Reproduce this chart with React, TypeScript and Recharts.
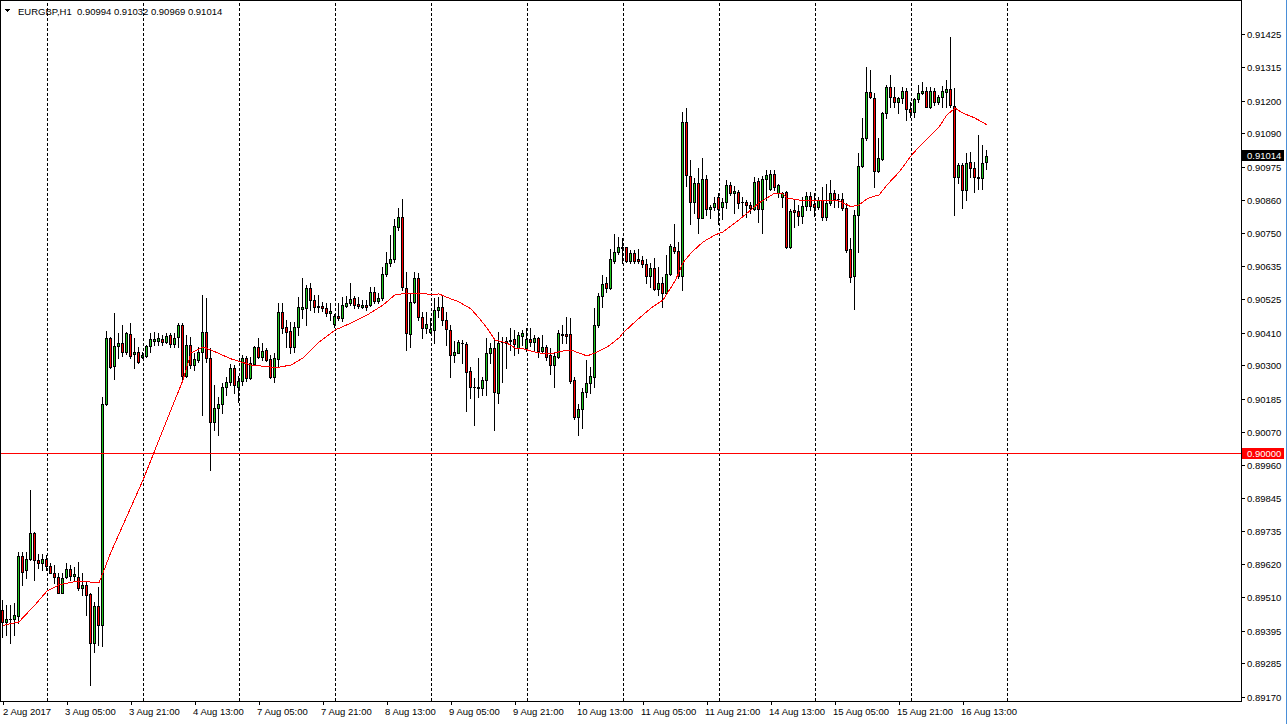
import { ComposedChart, Bar, Line, XAxis, YAxis, ReferenceLine } from 'recharts'

const W = 1287
const H = 724
const PLOT_LEFT = 1
const PLOT_RIGHT = 1241
const PLOT_BOTTOM = 701
const FONT = '"Liberation Sans", Arial, sans-serif'
const BULL = '#1ec81e'
const BEAR = '#ff0000'
const LEVEL_COLOR = '#ff0000'

const SYMBOL = 'EURGBP,H1'

// hourly bars, 2 Aug 13:00 -> 16 Aug 19:00
const OPEN = [
  0.89467, 0.89427, 0.89435, 0.89435, 0.89447, 0.89651, 0.89603, 0.89639, 0.8973, 0.89637,
  0.89626, 0.89639, 0.89616, 0.89594, 0.89578, 0.89526, 0.89578, 0.89605, 0.89582, 0.89578,
  0.89541, 0.89552, 0.8952, 0.89353, 0.8948, 0.89416, 0.90168, 0.90392, 0.90298, 0.90366,
  0.90375, 0.90346, 0.90407, 0.90339, 0.90344, 0.90329, 0.90332, 0.90366, 0.90384, 0.90384,
  0.90389, 0.90379, 0.90403, 0.90372, 0.90395, 0.90437, 0.90264, 0.90369, 0.90301, 0.90318,
  0.90346, 0.90415, 0.90326, 0.90108, 0.90156, 0.90167, 0.90227, 0.90244, 0.9029, 0.90225,
  0.90247, 0.90324, 0.90256, 0.90304, 0.90361, 0.90327, 0.90352, 0.9032, 0.90259, 0.9032,
  0.90481, 0.9043, 0.90417, 0.90361, 0.90432, 0.90493, 0.90494, 0.90562, 0.90522, 0.90502,
  0.90502, 0.90494, 0.90477, 0.9044, 0.90468, 0.9046, 0.90503, 0.90511, 0.90529, 0.90509,
  0.905, 0.90505, 0.90504, 0.90549, 0.90519, 0.90528, 0.9061, 0.90647, 0.90661, 0.9077,
  0.90804, 0.90562, 0.90407, 0.90517, 0.90596, 0.90466, 0.90426, 0.90412, 0.9042, 0.90488,
  0.90498, 0.90454, 0.9042, 0.90335, 0.90343, 0.90377, 0.90373, 0.90282, 0.90225, 0.90226,
  0.90222, 0.9025, 0.90343, 0.90358, 0.90207, 0.9038, 0.90375, 0.90384, 0.9039, 0.90358,
  0.904, 0.90358, 0.90389, 0.9038, 0.90392, 0.9035, 0.90361, 0.90335, 0.90301, 0.90327,
  0.90407, 0.90407, 0.90406, 0.9025, 0.90123, 0.9015, 0.90208, 0.90239, 0.90261, 0.90437,
  0.90536, 0.90581, 0.90562, 0.90656, 0.90687, 0.90702, 0.90702, 0.90656, 0.90684, 0.90661,
  0.90659, 0.90644, 0.90605, 0.9063, 0.90559, 0.90579, 0.90547, 0.90611, 0.90702, 0.9069,
  0.90604, 0.9113, 0.90945, 0.90855, 0.90922, 0.90803, 0.90934, 0.90831, 0.9084, 0.90872,
  0.90838, 0.90855, 0.90914, 0.90886, 0.90891, 0.90855, 0.90855, 0.90846, 0.90832, 0.90929,
  0.90831, 0.90934, 0.909, 0.90952, 0.90886, 0.90872, 0.90891, 0.90704, 0.90829, 0.90827,
  0.90809, 0.90843, 0.90877, 0.9085, 0.9084, 0.90863, 0.90806, 0.90854, 0.90886, 0.90865,
  0.90865, 0.90835, 0.90695, 0.90604, 0.90812, 0.90979, 0.91073, 0.91232, 0.91209, 0.90963,
  0.91002, 0.91158, 0.91249, 0.91213, 0.91198, 0.91209, 0.91235, 0.91173, 0.91164, 0.91207,
  0.91226, 0.91234, 0.91181, 0.91234, 0.91198, 0.91215, 0.91232, 0.9124, 0.91183, 0.90942,
  0.90982, 0.90897, 0.90994, 0.90971, 0.90942, 0.90937, 0.90994,
]
const HIGH = [
  0.89501, 0.89484, 0.89484, 0.89489, 0.89665, 0.89665, 0.89665, 0.89875, 0.89733, 0.89657,
  0.89657, 0.89654, 0.89626, 0.8962, 0.89592, 0.89592, 0.89626, 0.8962, 0.89614, 0.89631,
  0.89592, 0.89563, 0.89524, 0.89495, 0.89546, 0.90191, 0.90418, 0.90397, 0.90477, 0.90411,
  0.90437, 0.90415, 0.90443, 0.90392, 0.90363, 0.90346, 0.90369, 0.90409, 0.90415, 0.90409,
  0.90403, 0.90409, 0.90409, 0.90409, 0.90443, 0.90443, 0.90403, 0.90397, 0.90341, 0.90363,
  0.9054, 0.90528, 0.90358, 0.90233, 0.90193, 0.90241, 0.90261, 0.90304, 0.90301, 0.90264,
  0.90335, 0.90332, 0.90329, 0.90366, 0.90392, 0.90375, 0.90358, 0.90335, 0.90341, 0.90511,
  0.90511, 0.90454, 0.90449, 0.90449, 0.90534, 0.90596, 0.90574, 0.90579, 0.9054, 0.9054,
  0.90517, 0.90511, 0.90511, 0.90475, 0.90513, 0.90534, 0.90536, 0.90579, 0.90536, 0.90532,
  0.90522, 0.90522, 0.90568, 0.90568, 0.90545, 0.90636, 0.90687, 0.90744, 0.90797, 0.90835,
  0.90865, 0.90619, 0.90543, 0.90619, 0.90615, 0.90483, 0.90483, 0.9046, 0.90528, 0.90534,
  0.9054, 0.90483, 0.90437, 0.90384, 0.90386, 0.90386, 0.9038, 0.90295, 0.90256, 0.90324,
  0.90261, 0.90392, 0.90375, 0.90392, 0.90415, 0.90397, 0.90397, 0.90426, 0.9042, 0.90415,
  0.9042, 0.90426, 0.90426, 0.90403, 0.90397, 0.90403, 0.90369, 0.90358, 0.90343, 0.9042,
  0.90437, 0.90464, 0.9046, 0.90261, 0.90168, 0.90222, 0.90318, 0.90295, 0.90494, 0.90547,
  0.90608, 0.90602, 0.90695, 0.90747, 0.90736, 0.90733, 0.90704, 0.90693, 0.90693, 0.90695,
  0.90672, 0.90661, 0.90647, 0.90665, 0.90636, 0.90602, 0.90676, 0.90713, 0.90781, 0.90721,
  0.91164, 0.91175, 0.90999, 0.90937, 0.90971, 0.91005, 0.90948, 0.90846, 0.90874, 0.90886,
  0.90869, 0.90931, 0.90925, 0.90911, 0.90897, 0.90872, 0.90863, 0.90857, 0.90942, 0.90937,
  0.90945, 0.90965, 0.90965, 0.90965, 0.90916, 0.90891, 0.90892, 0.90831, 0.90863, 0.90846,
  0.90872, 0.90891, 0.90891, 0.90886, 0.90874, 0.90908, 0.90918, 0.90931, 0.90897, 0.90883,
  0.90888, 0.90852, 0.90733, 0.90829, 0.91022, 0.91141, 0.91317, 0.91306, 0.91226, 0.91073,
  0.91164, 0.91255, 0.91289, 0.91249, 0.91215, 0.91249, 0.91244, 0.91198, 0.91209, 0.91255,
  0.91266, 0.91249, 0.91249, 0.91244, 0.91221, 0.91251, 0.91272, 0.91419, 0.91244, 0.9099,
  0.90988, 0.91022, 0.91028, 0.90994, 0.91085, 0.9105, 0.91032,
]
const LOW = [
  0.89376, 0.89381, 0.89353, 0.89381, 0.89421, 0.89552, 0.89575, 0.89637, 0.89569, 0.89609,
  0.89603, 0.89603, 0.89592, 0.89558, 0.89524, 0.89524, 0.89575, 0.89569, 0.89569, 0.89535,
  0.89518, 0.8945, 0.89211, 0.89325, 0.89347, 0.89344, 0.90165, 0.9029, 0.90252, 0.90324,
  0.90332, 0.90339, 0.90324, 0.9029, 0.90309, 0.90325, 0.90327, 0.90346, 0.90369, 0.90369,
  0.90369, 0.90375, 0.90363, 0.90363, 0.90363, 0.9025, 0.90261, 0.9029, 0.90284, 0.90312,
  0.90131, 0.90312, 0.89943, 0.9008, 0.90063, 0.90139, 0.90199, 0.90233, 0.90205, 0.90176,
  0.90233, 0.90247, 0.90252, 0.90301, 0.90324, 0.90318, 0.90316, 0.90256, 0.90244, 0.90295,
  0.90409, 0.90363, 0.90341, 0.90346, 0.90403, 0.9046, 0.90437, 0.90488, 0.90483, 0.90483,
  0.90486, 0.90468, 0.90454, 0.90432, 0.90454, 0.90452, 0.905, 0.90505, 0.90494, 0.90494,
  0.90494, 0.90488, 0.90502, 0.90511, 0.90513, 0.90522, 0.90604, 0.90638, 0.90653, 0.90761,
  0.90557, 0.90352, 0.90363, 0.90511, 0.90454, 0.90392, 0.90409, 0.90409, 0.90375, 0.90466,
  0.90437, 0.90369, 0.90259, 0.90312, 0.90341, 0.90307, 0.90145, 0.90188, 0.90097, 0.90191,
  0.90199, 0.90199, 0.90307, 0.9008, 0.90171, 0.90244, 0.9029, 0.90352, 0.90335, 0.90341,
  0.90369, 0.9035, 0.90366, 0.90352, 0.90329, 0.90341, 0.90318, 0.9027, 0.90227, 0.90324,
  0.90375, 0.90375, 0.90239, 0.90116, 0.90063, 0.90085, 0.90193, 0.90205, 0.90227, 0.9043,
  0.905, 0.90551, 0.90559, 0.9065, 0.90679, 0.90647, 0.90653, 0.90647, 0.9065, 0.90647,
  0.90636, 0.90579, 0.90566, 0.90557, 0.9054, 0.90498, 0.90543, 0.90608, 0.90682, 0.90596,
  0.90557, 0.90911, 0.90781, 0.90818, 0.90752, 0.90801, 0.90812, 0.90801, 0.90829, 0.90781,
  0.90797, 0.90835, 0.9088, 0.90818, 0.90835, 0.90812, 0.90806, 0.90818, 0.90829, 0.90789,
  0.90752, 0.90863, 0.90897, 0.90897, 0.90872, 0.9084, 0.90699, 0.907, 0.90772, 0.90778,
  0.90784, 0.90829, 0.90829, 0.90809, 0.90831, 0.90795, 0.90795, 0.90846, 0.9084, 0.9084,
  0.90829, 0.90687, 0.90585, 0.90491, 0.90687, 0.90977, 0.91067, 0.9121, 0.90908, 0.90959,
  0.90999, 0.91141, 0.91181, 0.91181, 0.91158, 0.91192, 0.91136, 0.91145, 0.91147, 0.91198,
  0.91224, 0.91179, 0.91175, 0.91187, 0.9119, 0.91181, 0.91181, 0.91181, 0.90812, 0.9092,
  0.90835, 0.90863, 0.90942, 0.90891, 0.909, 0.909, 0.90969,
]
const CLOSE = [
  0.89427, 0.89435, 0.89436, 0.89449, 0.89651, 0.89597, 0.8964, 0.89728, 0.89637, 0.89626,
  0.89639, 0.89617, 0.89594, 0.8958, 0.89526, 0.89575, 0.89605, 0.89582, 0.89589, 0.89541,
  0.89552, 0.89518, 0.89353, 0.8948, 0.89416, 0.90168, 0.90392, 0.90295, 0.90366, 0.90375,
  0.90346, 0.90411, 0.90332, 0.90345, 0.90312, 0.90334, 0.90366, 0.90389, 0.90389, 0.90392,
  0.90379, 0.904, 0.90372, 0.90392, 0.90437, 0.90264, 0.90369, 0.90301, 0.9032, 0.90346,
  0.90415, 0.90324, 0.90108, 0.90154, 0.90167, 0.90227, 0.90244, 0.9029, 0.90233, 0.90247,
  0.90324, 0.90256, 0.90307, 0.90361, 0.90327, 0.9035, 0.90318, 0.90261, 0.90324, 0.90481,
  0.90426, 0.90415, 0.90361, 0.9043, 0.90498, 0.90498, 0.90562, 0.90522, 0.905, 0.90498,
  0.90494, 0.90477, 0.90486, 0.90468, 0.9046, 0.90505, 0.90513, 0.90526, 0.90505, 0.90502,
  0.90505, 0.905, 0.90549, 0.90519, 0.90529, 0.9061, 0.90647, 0.90662, 0.90775, 0.90804,
  0.90566, 0.90409, 0.90517, 0.90596, 0.90466, 0.90426, 0.90441, 0.90424, 0.90488, 0.90498,
  0.90454, 0.90423, 0.90335, 0.90346, 0.90378, 0.90375, 0.90278, 0.90225, 0.90226, 0.90222,
  0.9025, 0.90341, 0.90358, 0.9021, 0.90377, 0.90379, 0.90384, 0.90385, 0.90373, 0.90403,
  0.90409, 0.90389, 0.9038, 0.90392, 0.9035, 0.90361, 0.90329, 0.90301, 0.90332, 0.90409,
  0.90403, 0.90401, 0.90248, 0.90125, 0.9015, 0.90208, 0.90239, 0.90264, 0.90437, 0.90536,
  0.90576, 0.90562, 0.90661, 0.90687, 0.90702, 0.90699, 0.90656, 0.90684, 0.90656, 0.90656,
  0.90644, 0.90605, 0.9063, 0.90559, 0.90579, 0.90547, 0.90611, 0.90706, 0.9069, 0.90604,
  0.9113, 0.90948, 0.90855, 0.90922, 0.90803, 0.90934, 0.90831, 0.90838, 0.90852, 0.90831,
  0.90855, 0.90914, 0.90886, 0.90894, 0.90854, 0.90856, 0.90846, 0.90835, 0.90925, 0.90831,
  0.90934, 0.90948, 0.90952, 0.90908, 0.90914, 0.90886, 0.90704, 0.90827, 0.90823, 0.90809,
  0.90843, 0.90877, 0.90843, 0.90838, 0.90863, 0.90806, 0.90854, 0.90886, 0.90865, 0.90866,
  0.90835, 0.90693, 0.90602, 0.90812, 0.90979, 0.91073, 0.91232, 0.91213, 0.90963, 0.91005,
  0.9116, 0.91249, 0.91213, 0.91198, 0.91209, 0.91235, 0.91173, 0.91164, 0.91206, 0.91226,
  0.91234, 0.91181, 0.91234, 0.91198, 0.91215, 0.91234, 0.9124, 0.91187, 0.90942, 0.90982,
  0.90897, 0.9099, 0.90971, 0.9094, 0.90937, 0.9099, 0.91014,
]

// moving average, read at these bars
const MA_BAR = [
  0, 4, 8, 11, 14, 18, 21, 24, 25, 27, 30, 35, 40, 45, 47, 50, 52, 57, 62, 67, 68, 72, 75, 77, 79,
  83, 87, 91, 95, 98, 101, 105, 107, 109, 112, 114, 117, 119, 121, 123, 126, 128, 130, 134, 137,
  140, 142, 144, 146, 148, 151, 154, 155, 158, 162, 165, 168, 170, 172, 175, 178, 180, 184, 189,
  193, 195, 196, 199, 204, 209, 212, 214, 216, 218, 219, 221, 224, 227, 229, 234, 236, 238, 240,
  243, 246,
]
const MA_VALUE = [
  0.89414, 0.89426, 0.89484, 0.89531, 0.89552, 0.89563, 0.89563, 0.89559, 0.89593, 0.89664,
  0.89756, 0.89909, 0.9008, 0.9025, 0.90342, 0.90362, 0.90352, 0.90322, 0.90301, 0.90294,
  0.90291, 0.90301, 0.90325, 0.90352, 0.90379, 0.9042, 0.90444, 0.90471, 0.90505, 0.9054,
  0.90546, 0.90546, 0.9054, 0.90543, 0.90526, 0.90516, 0.90492, 0.90461, 0.90427, 0.90386,
  0.90376, 0.90359, 0.90356, 0.90342, 0.90339, 0.90349, 0.90352, 0.90342, 0.90332, 0.90342,
  0.90362, 0.90393, 0.9041, 0.90448, 0.90495, 0.90522, 0.90587, 0.90649, 0.90683, 0.9072,
  0.90744, 0.90754, 0.90795, 0.90853, 0.90887, 0.90884, 0.9087, 0.90863, 0.9086, 0.9086,
  0.9084, 0.90846, 0.90867, 0.90877, 0.9088, 0.90914, 0.90958, 0.91013, 0.91044, 0.91112,
  0.91153, 0.91176, 0.91159, 0.91142, 0.91119,
]

const TIME_LABELS = [
  '2 Aug 2017', '3 Aug 05:00', '3 Aug 21:00', '4 Aug 13:00', '7 Aug 05:00', '7 Aug 21:00',
  '8 Aug 13:00', '9 Aug 05:00', '9 Aug 21:00', '10 Aug 13:00', '11 Aug 05:00', '11 Aug 21:00',
  '14 Aug 13:00', '15 Aug 05:00', '15 Aug 21:00', '16 Aug 13:00',
]
const TIME_LABEL_BAR = [0, 16, 32, 48, 64, 80, 96, 112, 128, 144, 160, 176, 192, 208, 224, 240]
const DAY_START_BAR = [11, 35, 59, 83, 107, 131, 155, 179, 203, 227, 251]

const PRICE_TICKS = [
  0.91425, 0.91315, 0.912, 0.9109, 0.90975, 0.9086, 0.9075, 0.90635, 0.90525, 0.9041, 0.903,
  0.90185, 0.9007, 0.8996, 0.89845, 0.89735, 0.8962, 0.8951, 0.89395, 0.89285, 0.8917,
]
const LEVEL = 0.9
const Y_DOMAIN: [number, number] = [0.891566, 0.915408]
const EMPTY_BARS = 63 // chart shift on the right

const N = CLOSE.length
const LAST = CLOSE[N - 1]

const data = Array.from({ length: N + EMPTY_BARS }, (_, i) => ({
  i,
  o: i < N ? OPEN[i] : null,
  h: i < N ? HIGH[i] : null,
  l: i < N ? LOW[i] : null,
  c: i < N ? CLOSE[i] : null,
  ma: null as number | null,
}))
MA_BAR.forEach((b, k) => {
  data[b].ma = MA_VALUE[k]
})

function Candle(props: any) {
  const { x, y, width, height, payload } = props
  if (!payload || payload.h == null) return <g />
  const { o, h, l, c } = payload
  const top = Math.min(y, y + height)
  const span = Math.abs(height)
  const toY = (v: number) => (h === l ? top : top + ((h - v) / (h - l)) * span)
  const cx = Math.floor(x + width / 2)
  const wickTop = Math.round(top)
  const wickBot = Math.round(top + span)
  const bodyTop = Math.round(toY(Math.max(o, c)))
  const bodyBot = Math.round(toY(Math.min(o, c)))
  const bh = bodyBot - bodyTop
  return (
    <g>
      <rect x={cx} y={wickTop} width={1} height={Math.max(1, wickBot - wickTop + 1)} fill="#000" />
      <rect x={cx - 1} y={bodyTop} width={3} height={Math.max(1, bh + 1)} fill="#000" />
      {bh >= 2 && (
        <rect x={cx} y={bodyTop + 1} width={1} height={bh - 1} fill={c >= o ? BULL : BEAR} />
      )}
    </g>
  )
}

function TimeTick(props: any) {
  const { x, payload } = props
  const k = TIME_LABEL_BAR.indexOf(payload.value)
  const px = Math.floor(x)
  return (
    <g>
      <rect x={px} y={PLOT_BOTTOM} width={1} height={4} fill="#000" />
      <text x={Math.max(3, px - 2)} y={715} fontSize={9.5} fontFamily={FONT} fill="#000">
        {TIME_LABELS[k]}
      </text>
    </g>
  )
}

// price scale labels; the 0.90000 level also gets its horizontal line here
function PriceTick(props: any) {
  const { y, payload } = props
  const v = payload.value
  const yy = Math.floor(y)
  const isLevel = v === LEVEL
  const boxed = v === LAST || isLevel
  return (
    <g>
      {isLevel && (
        <rect x={PLOT_LEFT} y={yy} width={PLOT_RIGHT - PLOT_LEFT} height={1} fill={LEVEL_COLOR} />
      )}
      <rect x={PLOT_RIGHT} y={yy} width={4} height={1} fill="#000" />
      {boxed && (
        <rect x={PLOT_RIGHT + 1} y={yy - 5} width={42} height={11} fill={isLevel ? LEVEL_COLOR : '#000'} />
      )}
      <text x={PLOT_RIGHT + 6} y={yy + 4} fontSize={9.5} fontFamily={FONT} fill={boxed ? '#fff' : '#000'}>
        {v.toFixed(5)}
      </text>
    </g>
  )
}

export default function App() {
  return (
    <div
      style={{
        position: 'absolute',
        left: 0,
        top: 0,
        width: W,
        height: H,
        background: '#fff',
        overflow: 'hidden',
        shapeRendering: 'crispEdges',
      }}
    >
      <ComposedChart
        width={W}
        height={H}
        data={data}
        margin={{ top: 1, right: 0, bottom: 0, left: 1 }}
      >
        <XAxis
          dataKey="i"
          type="category"
          ticks={TIME_LABEL_BAR}
          interval={0}
          tick={<TimeTick />}
          tickLine={false}
          axisLine={false}
          height={23}
        />
        <YAxis
          orientation="right"
          type="number"
          domain={Y_DOMAIN}
          allowDataOverflow
          ticks={[...PRICE_TICKS, LEVEL, LAST]}
          interval={0}
          tick={<PriceTick />}
          tickLine={false}
          axisLine={false}
          width={46}
        />
        {DAY_START_BAR.map(b => (
          <ReferenceLine key={b} x={b} stroke="#000" strokeDasharray="3 2" />
        ))}
        <Line
          dataKey="ma"
          stroke="#ff0000"
          strokeWidth={1}
          dot={false}
          activeDot={false}
          connectNulls
          isAnimationActive={false}
        />
        <Bar
          dataKey={(d: any) => (d.h == null ? null : [d.l, d.h])}
          shape={(p: any) => <Candle {...p} />}
          isAnimationActive={false}
        />
      </ComposedChart>

      {/* frame */}
      <div
        style={{
          position: 'absolute',
          left: 0,
          top: 0,
          width: PLOT_RIGHT + 1,
          height: PLOT_BOTTOM + 1,
          border: '1px solid #000',
          boxSizing: 'border-box',
          pointerEvents: 'none',
        }}
      />
      <div style={{ position: 'absolute', left: W - 1, top: 0, width: 1, height: H, background: '#4a8fd8' }} />

      {/* title */}
      <svg style={{ position: 'absolute', left: 0, top: 0 }} width={14} height={16}>
        <polygon points="4,9 10,9 7,12" fill="#000" />
      </svg>
      <div
        style={{
          position: 'absolute',
          left: 18,
          top: 6,
          fontFamily: FONT,
          fontSize: 9.5,
          lineHeight: '12px',
          whiteSpace: 'pre',
          color: '#000',
        }}
      >
        {`${SYMBOL}  ${OPEN[N - 1].toFixed(5)} ${HIGH[N - 1].toFixed(5)} ${LOW[N - 1].toFixed(5)} ${LAST.toFixed(5)}`}
      </div>
    </div>
  )
}
